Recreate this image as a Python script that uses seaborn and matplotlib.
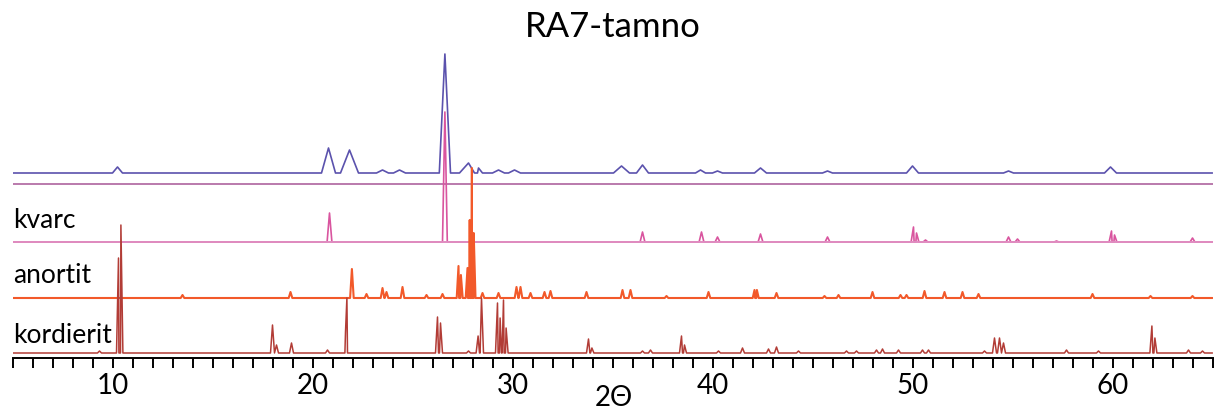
import numpy as np
import pandas as pd
import matplotlib
matplotlib.use("Agg")
import matplotlib.pyplot as plt
from matplotlib.ticker import MultipleLocator
import seaborn as sns

# ---------------- data ----------------
X_MIN, X_MAX = 5, 65

# measured pattern RA7-tamno: peak positions (2theta), heights, half-widths
meas_pos = [10.25, 20.8, 21.85, 23.5, 24.35, 26.62, 27.8, 28.3, 29.3, 30.1,
            35.45, 36.5, 39.4, 40.25, 42.4, 45.75, 50.0, 54.8, 59.9]
meas_int = [6, 25, 23, 3, 3, 119, 10, 5, 3, 3,
            7, 8, 3, 2, 5, 2, 7, 2, 6]
meas_wid = [0.25, 0.35, 0.45, 0.3, 0.3, 0.28, 0.45, 0.2, 0.3, 0.3,
            0.4, 0.3, 0.25, 0.25, 0.3, 0.25, 0.3, 0.25, 0.3]

# kvarc (quartz) reference pattern
kvarc_pos = [20.85, 26.62, 36.5, 39.45, 40.25, 42.4, 45.75, 50.05, 50.2,
             50.65, 54.8, 55.25, 57.2, 59.95, 60.1, 64.0]
kvarc_int = [29, 130, 10, 10, 5, 8, 5, 15, 9,
             2, 5, 3, 1, 11, 7, 4]

# anortit (anorthite) reference pattern
anort_pos = [13.5, 18.9, 21.97, 22.7, 23.5, 23.7, 24.5, 25.7, 26.5, 27.3,
             27.42, 27.75, 27.86, 27.97, 28.06, 28.5, 29.3, 30.2, 30.4, 30.9,
             31.6, 31.9, 33.7, 35.5, 35.9, 37.7, 39.8, 42.1, 42.22, 43.2,
             45.6, 46.3, 48.0, 49.4, 49.7, 50.6, 51.6, 52.5, 53.3, 59.0,
             61.9, 64.0]
anort_int = [3, 6, 29, 4, 10, 6, 11, 3, 4, 32,
             23, 30, 78, 130, 65, 5, 5, 11, 11, 5,
             6, 7, 6, 8, 8, 2, 6, 8, 8, 5,
             2, 3, 6, 3, 3, 7, 6, 6, 4, 4,
             2, 2]

# kordierit (cordierite) reference pattern
kord_pos = [9.35, 10.3, 10.42, 18.0, 18.2, 18.95, 20.75, 21.65, 21.72, 26.25,
            26.4, 27.8, 28.28, 28.45, 29.25, 29.38, 29.55, 29.68, 33.8, 33.97,
            36.5, 36.9, 38.45, 38.6, 40.3, 41.5, 42.8, 43.2, 44.3, 46.7,
            47.2, 48.2, 48.5, 49.3, 50.5, 50.8, 53.6, 54.1, 54.35, 54.55,
            57.7, 59.3, 61.97, 62.12, 63.8, 64.5]
kord_int = [2, 95, 128, 28, 8, 10, 3, 21, 55, 36,
            30, 2, 17, 55, 50, 35, 53, 25, 14, 5,
            2, 3, 17, 8, 2, 5, 4, 6, 2, 2,
            2, 3, 4, 3, 3, 3, 2, 15, 15, 10,
            3, 2, 27, 15, 3, 2]

phase_labels = ["kvarc", "anortit", "kordierit"]
title_text = "RA7-tamno"
x_label = "2\u0398"
x_ticks = [10, 20, 30, 40, 50, 60]

# ---------------- styling / layout ----------------
C_MEAS = "#5b52ad"
C_MEAS_BASE = "#b46fa6"
C_KVARC = "#d9559f"
C_KVARC_BASE = "#e08cc0"
C_ANORT = "#f2592a"
C_KORD = "#b23c36"

OFF_MEAS = 185
OFF_MEAS_BASE = 174
OFF_KVARC = 116
OFF_ANORT = 60
OFF_KORD = 5


def profile(pos, ints, widths, offset):
    pts = [(X_MIN, 0.0), (X_MAX, 0.0)]
    for p, h, w in zip(pos, ints, widths):
        pts += [(p - w, 0.0), (p, float(h)), (p + w, 0.0)]
    pts.sort(key=lambda t: t[0])
    df = pd.DataFrame(pts, columns=["x", "y"])
    df["y"] = df["y"] + offset
    return df


sns.set_theme(style="white")
plt.rcParams["font.family"] = ["Lato", "DejaVu Sans"]
plt.rcParams["text.color"] = "black"
plt.rcParams["axes.labelcolor"] = "black"
plt.rcParams["xtick.color"] = "black"

fig = plt.figure(figsize=(12.16, 4.12), dpi=100)
ax = fig.add_axes([12.5 / 1216, 54 / 412, 1200 / 1216, 308 / 412])

df_meas = profile(meas_pos, meas_int, meas_wid, OFF_MEAS)
df_kv = profile(kvarc_pos, kvarc_int, [0.12] * len(kvarc_pos), OFF_KVARC)
df_an = profile(anort_pos, anort_int, [0.09] * len(anort_pos), OFF_ANORT)
df_ko = profile(kord_pos, kord_int, [0.1] * len(kord_pos), OFF_KORD)

sns.lineplot(data=df_meas, x="x", y="y", ax=ax, color=C_MEAS, lw=1.2,
             estimator=None, sort=False, zorder=2)
ax.axhline(OFF_MEAS_BASE, color=C_MEAS_BASE, lw=1.3, zorder=2)
sns.lineplot(data=df_kv, x="x", y="y", ax=ax, color=C_KVARC, lw=1.2,
             estimator=None, sort=False, zorder=3)
ax.axhline(OFF_KVARC, color=C_KVARC_BASE, lw=1.4, zorder=3)
sns.lineplot(data=df_an, x="x", y="y", ax=ax, color=C_ANORT, lw=1.5,
             estimator=None, sort=False, zorder=4)
sns.lineplot(data=df_ko, x="x", y="y", ax=ax, color=C_KORD, lw=1.1,
             estimator=None, sort=False, zorder=5)

ax.set_xlim(X_MIN, X_MAX)
ax.set_ylim(0, 308)

for lab, yb in zip(phase_labels, [130, 75, 15]):
    ax.text(5.05, yb, lab, fontsize=19, va="baseline", ha="left",
            color="black", zorder=6)

for s in ["top", "right", "left"]:
    ax.spines[s].set_visible(False)
ax.spines["bottom"].set_color("black")
ax.spines["bottom"].set_linewidth(1.4)
ax.set_yticks([])
ax.set_xticks(x_ticks)
ax.xaxis.set_minor_locator(MultipleLocator(1))
ax.tick_params(axis="x", which="both", direction="out", length=7, width=1.4,
               color="black", bottom=True, labelsize=20, pad=4)
ax.set_xlabel("")
ax.set_ylabel("")

fig.text(614 / 1216, 1 - 398 / 412, x_label, fontsize=20, ha="center",
         va="center")
fig.text(613 / 1216, 1 - 27 / 412, title_text, fontsize=25, ha="center",
         va="center")

fig.savefig("out.png", dpi=100)
